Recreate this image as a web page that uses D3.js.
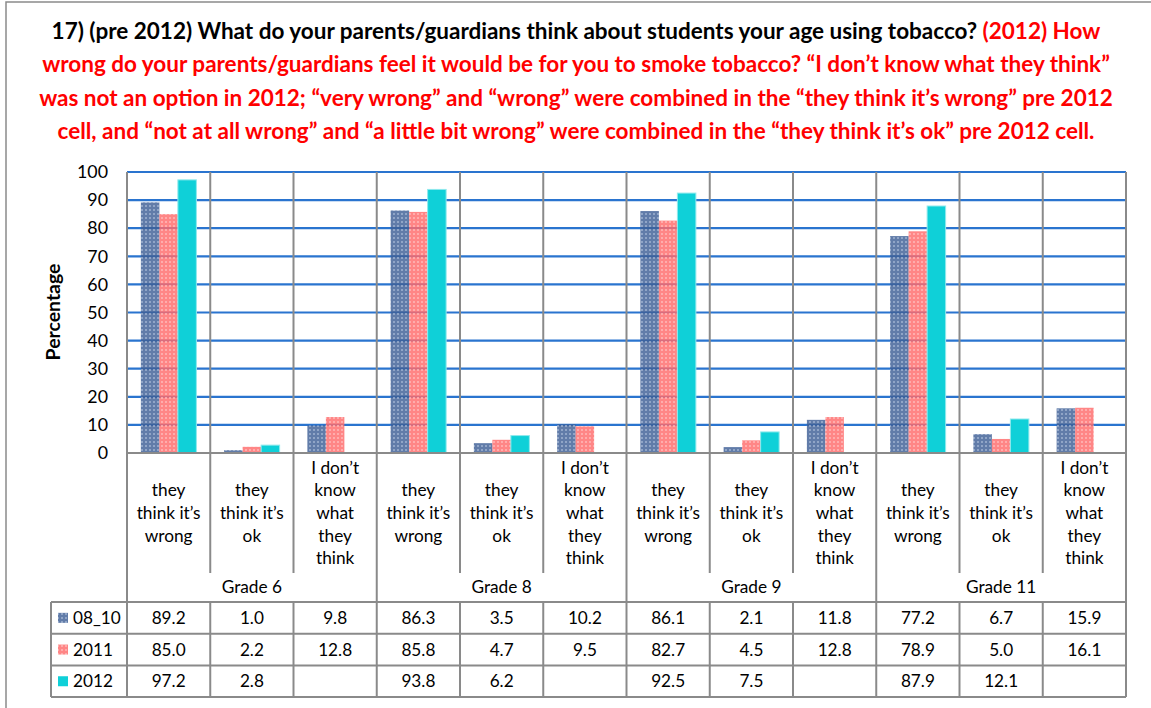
<!DOCTYPE html>
<html>
<head>
<meta charset="utf-8">
<script src="https://cdn.jsdelivr.net/npm/d3@7"></script>
<style>
  html, body { margin: 0; padding: 0; background: #fff; }
  svg { display: block; }
</style>
</head>
<body>
<div id="viz"></div>
<script>
// --- data ---
const grades = ["Grade 6", "Grade 8", "Grade 9", "Grade 11"];
const answers = ["they\nthink it’s\nwrong", "they\nthink it’s\nok", "I don’t\nknow\nwhat\nthey\nthink"];
const seriesNames = ["08_10", "2011", "2012"];
const values0810 = [89.2, 1.0, 9.8, 86.3, 3.5, 10.2, 86.1, 2.1, 11.8, 77.2, 6.7, 15.9];
const values2011 = [85.0, 2.2, 12.8, 85.8, 4.7, 9.5, 82.7, 4.5, 12.8, 78.9, 5.0, 16.1];
const values2012 = [97.2, 2.8, null, 93.8, 6.2, null, 92.5, 7.5, null, 87.9, 12.1, null];
const yTicks = [0, 10, 20, 30, 40, 50, 60, 70, 80, 90, 100];

const titleLines = [
  [["17) (pre 2012) What do your parents/guardians think about students your age using tobacco? ", "#000"], ["(2012) How", "#ff0000"]],
  [["wrong do your parents/guardians feel it would be for you to smoke tobacco? “I don’t know what they think”", "#ff0000"]],
  [["was not an option in 2012; “very wrong” and “wrong” were combined in the “they think it’s wrong” pre 2012", "#ff0000"]],
  [["cell, and “not at all wrong” and “a little bit wrong” were combined in the “they think it’s ok” pre 2012 cell.", "#ff0000"]]
];

const W = 1151, H = 708;
const FONT = "Lato, 'Open Sans', sans-serif";
const GRAY = "#8a8a8a";
const GRID_BLUE = "#2a74cf";

const plot = { left: 127, right: 1126, top: 172, bottom: 453 };
const catSepBottom = 573;
const tableTop = 602, rowH = 31.7, tableLeft = 51;

const svg = d3.select("#viz").append("svg").attr("width", W).attr("height", H)
  .style("font-family", FONT);

// size a font so a sample string spans a target width
function fitSize(sample, weight, target) {
  const t = svg.append("text").attr("font-size", 20).attr("font-weight", weight).text(sample);
  const w = t.node().getComputedTextLength();
  t.remove();
  return 20 * target / w;
}

// patterns for the Excel-style textured bars
const defs = svg.append("defs");
function makePattern(id, base, dot) {
  const p = defs.append("pattern").attr("id", id).attr("patternUnits", "userSpaceOnUse")
    .attr("width", 4).attr("height", 4);
  p.append("rect").attr("width", 4).attr("height", 4).attr("fill", base).attr("fill-opacity", 0.82);
  p.append("rect").attr("x", 1).attr("y", 1).attr("width", 2).attr("height", 2).attr("fill", dot).attr("fill-opacity", 0.75);
}
makePattern("pat0810", "#3e5f96", "#9fb1d0");
makePattern("pat2011", "#ff6b6b", "#ffb8b8");
const seriesFill = ["url(#pat0810)", "url(#pat2011)", "#0fd0d8"];
const seriesValues = [values0810, values2011, values2012];

// outer chart border
svg.append("rect").attr("x", 6).attr("y", 2).attr("width", W).attr("height", H)
  .attr("fill", "none").attr("stroke", GRAY).attr("stroke-width", 1.5);

// title
const titleSize = fitSize(titleLines[1][0][0], "bold", 1068);
titleLines.forEach((parts, i) => {
  const t = svg.append("text").attr("x", 576).attr("y", 39 + i * 33.3)
    .attr("text-anchor", "middle").attr("font-weight", "bold").attr("font-size", titleSize);
  parts.forEach(([txt, col]) => t.append("tspan").attr("fill", col).text(txt));
});

// scales
const cats = d3.range(grades.length * answers.length);
const x = d3.scaleBand().domain(cats).range([plot.left, plot.right]).padding(0);
const x1 = d3.scaleBand().domain(seriesNames).range([0, x.bandwidth()]).paddingInner(0).paddingOuter(0.75);
const y = d3.scaleLinear().domain([0, 100]).range([plot.bottom, plot.top]);

// gridlines
svg.append("g").selectAll("line").data(yTicks.filter(d => d > 0)).join("line")
  .attr("x1", plot.left).attr("x2", plot.right)
  .attr("y1", d => y(d)).attr("y2", d => y(d))
  .attr("stroke", GRID_BLUE).attr("stroke-width", 2.2);

// bars
seriesNames.forEach((name, si) => {
  svg.append("g").selectAll("rect")
    .data(seriesValues[si].map((v, i) => ({ i, v })).filter(d => d.v != null))
    .join("rect")
    .attr("x", d => x(d.i) + x1(name))
    .attr("y", d => y(d.v))
    .attr("width", x1.bandwidth())
    .attr("height", d => y(0) - y(d.v))
    .attr("fill", seriesFill[si])
    .attr("stroke", si === 2 ? "#8fe9ed" : "none").attr("stroke-width", 1);
});

// y axis
const tickSize = fitSize("100", "normal", 31);
const yAxis = svg.append("g").attr("transform", `translate(${plot.left},0)`)
  .call(d3.axisLeft(y).tickValues(yTicks).tickSize(0).tickPadding(19));
yAxis.select(".domain").remove();
yAxis.selectAll("text").attr("font-size", tickSize).attr("font-family", FONT).attr("fill", "#000");

svg.append("text")
  .attr("transform", "translate(60,312) rotate(-90)")
  .attr("text-anchor", "middle").attr("font-weight", "bold")
  .attr("font-size", fitSize("Percentage", "bold", 97)).text("Percentage");

// separators: category and grade boundaries
const bounds = d3.range(cats.length + 1).map(i => i === cats.length ? plot.right : x(i));
bounds.forEach((bx, i) => {
  const edge = i === 0 || i === cats.length;
  const gradeEdge = i % answers.length === 0;
  svg.append("line").attr("x1", bx).attr("x2", bx)
    .attr("y1", plot.top).attr("y2", edge ? tableTop + 3 * rowH : gradeEdge ? tableTop : catSepBottom)
    .attr("stroke", GRAY).attr("stroke-width", 2);
  svg.append("line").attr("x1", bx).attr("x2", bx)
    .attr("y1", tableTop).attr("y2", tableTop + 3 * rowH)
    .attr("stroke", GRAY).attr("stroke-width", 2);
});
svg.append("line").attr("x1", plot.left).attr("x2", plot.right)
  .attr("y1", plot.bottom).attr("y2", plot.bottom).attr("stroke", GRAY).attr("stroke-width", 2);

// category labels
const bodySize = fitSize("think it’s", "normal", 64);
const lineGap = 22.6;
cats.forEach(i => {
  const lines = answers[i % answers.length].split("\n");
  const t = svg.append("text").attr("text-anchor", "middle").attr("font-size", bodySize).attr("fill", "#000");
  const y0 = 513 - (lines.length - 1) * lineGap / 2 + bodySize * 0.35;
  lines.forEach((ln, k) => t.append("tspan").attr("x", x(i) + x.bandwidth() / 2).attr("y", y0 + k * lineGap).text(ln));
});
grades.forEach((g, gi) => {
  const cx = (x(gi * answers.length) + bounds[(gi + 1) * answers.length]) / 2;
  svg.append("text").attr("x", cx).attr("y", 587 + bodySize * 0.35)
    .attr("text-anchor", "middle").attr("font-size", bodySize).text(g);
});

// data table
const valSize = fitSize("89.2", "normal", 34);
d3.range(4).forEach(r => {
  svg.append("line").attr("x1", tableLeft).attr("x2", plot.right)
    .attr("y1", tableTop + r * rowH).attr("y2", tableTop + r * rowH)
    .attr("stroke", GRAY).attr("stroke-width", 2);
});
svg.append("line").attr("x1", tableLeft).attr("x2", tableLeft)
  .attr("y1", tableTop).attr("y2", tableTop + 3 * rowH).attr("stroke", GRAY).attr("stroke-width", 2);

seriesNames.forEach((name, si) => {
  const cy = tableTop + si * rowH + rowH / 2;
  svg.append("rect").attr("x", 58).attr("y", cy - 5).attr("width", 10).attr("height", 10)
    .attr("fill", seriesFill[si]);
  svg.append("text").attr("x", 73).attr("y", cy + valSize * 0.35)
    .attr("font-size", valSize).text(name);
  seriesValues[si].forEach((v, i) => {
    if (v == null) return;
    svg.append("text").attr("x", x(i) + x.bandwidth() / 2).attr("y", cy + valSize * 0.35)
      .attr("text-anchor", "middle").attr("font-size", valSize).text(v.toFixed(1));
  });
});
</script>
</body>
</html>
